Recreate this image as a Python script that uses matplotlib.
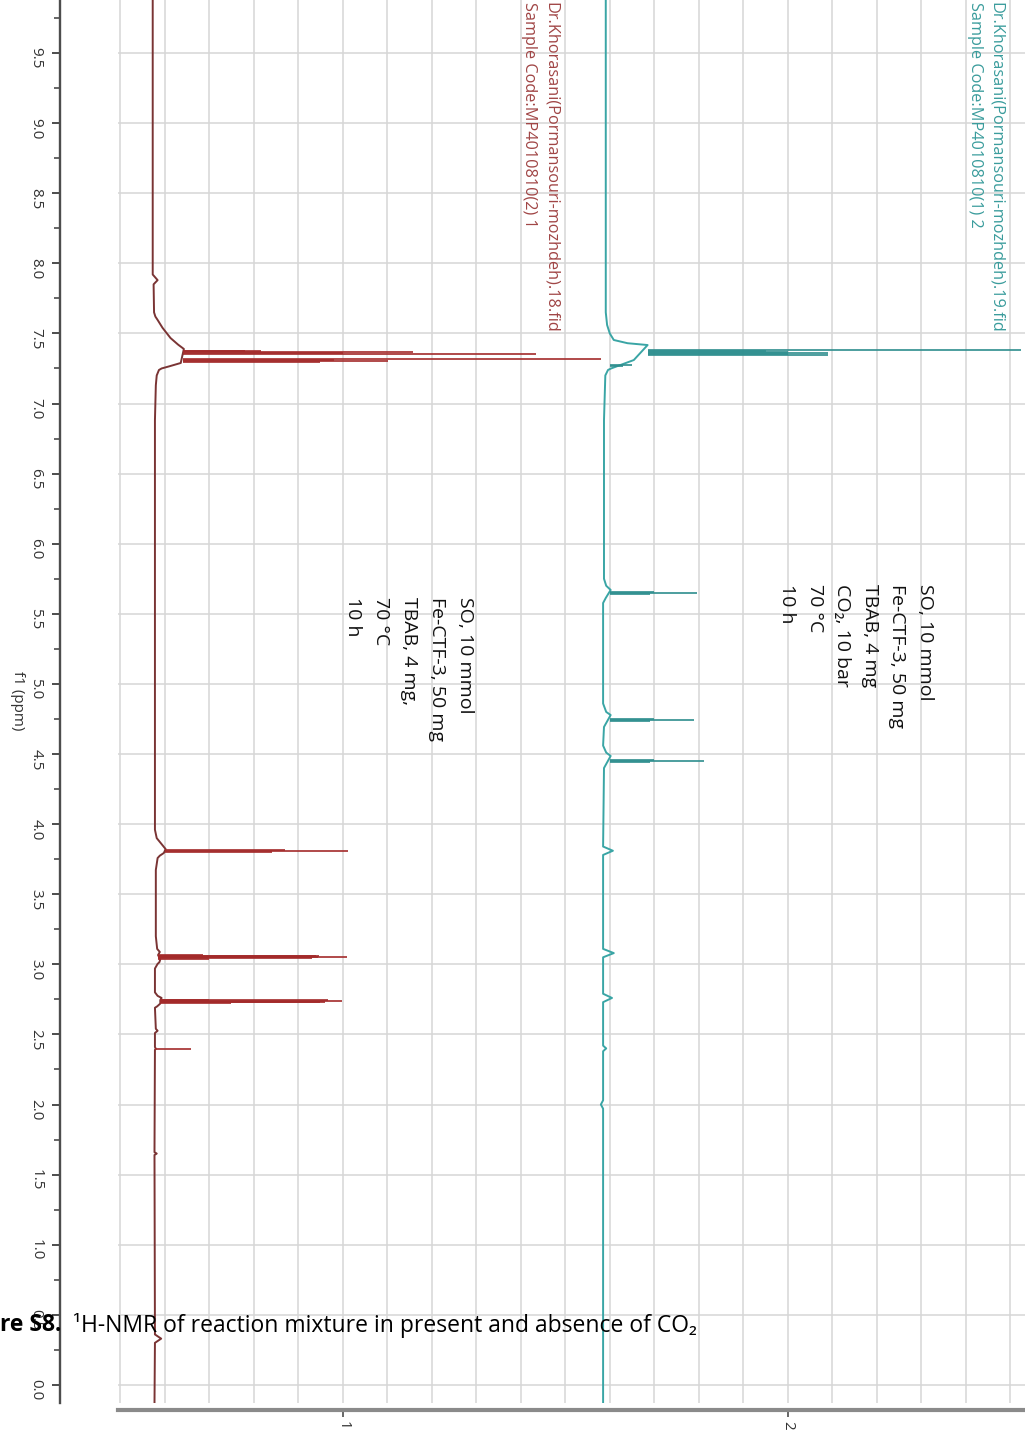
import numpy as np
import matplotlib.pyplot as plt
from matplotlib.ticker import MultipleLocator, FixedLocator

W, H = 1025, 1432


def fx(px):
    # pixel x -> figure fraction
    return px / W


def fy(py):
    # pixel y (from top) -> figure fraction
    return 1 - py / H


# ---- data (intensity, ppm) ----
red_base_ppm = [9.88, 7.92, 7.88, 7.85, 7.65, 7.62, 7.596, 7.54, 7.467, 7.42, 7.389,
                7.289, 7.265, 7.25, 7.239, 7.20, 7.13,
                6.88, 3.96, 3.90, 3.865, 3.822, 3.794, 3.775, 3.758, 3.673, 3.20, 3.11,
                3.088, 3.066, 3.035, 3.015, 3.003, 2.97, 2.80, 2.775, 2.76, 2.745, 2.72,
                2.70, 2.69, 2.54, 2.526, 2.51, 2.41, 2.398, 2.39, 1.66, 1.65, 1.64,
                0.36, 0.33, 0.30, -0.13]
red_base_int = [0.573, 0.573, 0.584, 0.575, 0.576, 0.579, 0.584, 0.595, 0.613, 0.630, 0.643,
                0.636, 0.610, 0.593, 0.587, 0.582, 0.580,
                0.578, 0.578, 0.582, 0.591, 0.602, 0.598, 0.589, 0.584, 0.580, 0.580, 0.583,
                0.589, 0.585, 0.590, 0.588, 0.584, 0.578, 0.578, 0.584, 0.593, 0.590, 0.590,
                0.583, 0.578, 0.580, 0.584, 0.578, 0.578, 0.580, 0.578, 0.577, 0.582, 0.577,
                0.578, 0.592, 0.578, 0.577]

red_peak_ppm = [7.377, 7.372, 7.365, 7.358, 7.351, 7.317, 7.310, 7.303, 7.297,
                3.812, 3.808, 3.804,
                3.068, 3.062, 3.058, 3.054, 3.050, 3.046, 3.040,
                2.748, 2.743, 2.738, 2.733, 2.728, 2.723,
                2.398]
red_peak_from = [0.64, 0.64, 0.64, 0.64, 0.64, 0.64, 0.64, 0.64, 0.64,
                 0.60, 0.60, 0.60,
                 0.585, 0.585, 0.585, 0.585, 0.585, 0.585, 0.585,
                 0.59, 0.59, 0.59, 0.59, 0.59, 0.59,
                 0.578]
red_peak_top = [0.816, 0.78, 1.157, 1.00, 1.434, 1.580, 0.98, 1.101, 0.95,
                0.87, 1.011, 0.84,
                0.685, 0.946, 0.940, 1.009, 0.945, 0.930, 0.700,
                0.700, 0.966, 0.998, 0.960, 0.950, 0.750,
                0.658]

teal_base_ppm = [9.88, 7.65, 7.56, 7.50, 7.453, 7.43, 7.417, 7.31, 7.27, 7.25, 7.239, 7.20,
                 6.88, 5.75, 5.70, 5.67, 5.613, 5.577, 4.86, 4.80, 4.778, 4.693, 4.56, 4.51,
                 4.486, 4.40, 3.84, 3.81, 3.78, 3.11, 3.08, 3.05, 2.79, 2.76, 2.73, 2.42,
                 2.40, 2.38, 2.03, 2.00, 1.97, -0.13]
teal_base_int = [1.591, 1.591, 1.594, 1.600, 1.609, 1.640, 1.685, 1.654, 1.620, 1.603, 1.596,
                 1.590, 1.587, 1.587, 1.592, 1.602, 1.591, 1.585, 1.585, 1.592, 1.602, 1.587,
                 1.585, 1.592, 1.602, 1.587, 1.585, 1.607, 1.585, 1.585, 1.609, 1.585, 1.585,
                 1.605, 1.585, 1.585, 1.592, 1.585, 1.585, 1.580, 1.585, 1.585]

teal_peak_ppm = [7.382, 7.376, 7.368, 7.362, 7.352, 7.345, 7.275, 7.265,
                 5.652, 5.646, 5.640, 4.749, 4.743, 4.737, 4.456, 4.450, 4.444]
teal_peak_from = [1.685, 1.685, 1.685, 1.685, 1.685, 1.685, 1.60, 1.60,
                  1.60, 1.60, 1.60, 1.60, 1.60, 1.60, 1.60, 1.60, 1.60]
teal_peak_top = [2.525, 1.95, 2.00, 2.09, 2.00, 2.09, 1.65, 1.63,
                 1.70, 1.796, 1.69, 1.70, 1.789, 1.69, 1.70, 1.811, 1.69]

intensity_ticks = [1, 2]

red_title = ["Dr.Khorasani(Pormansouri-mozhdeh).18.fid", "Sample Code:MP4010810(2) 1"]
teal_title = ["Dr.Khorasani(Pormansouri-mozhdeh).19.fid", "Sample Code:MP4010810(1) 2"]
red_conditions = ["SO, 10 mmol", "Fe-CTF-3, 50 mg", "TBAB, 4 mg,", "70 \u00b0C", "10 h"]
teal_conditions = ["SO, 10 mmol", "Fe-CTF-3, 50 mg", "TBAB, 4 mg", "CO\u2082, 10 bar",
                   "70 \u00b0C", "10 h"]

plt.rcParams['font.family'] = ['Open Sans', 'DejaVu Sans']

RED_LINE = '#7a3434'
RED_PEAK = '#a32a2a'
RED_TEXT = '#a04545'
TEAL_LINE = '#3aa5a5'
TEAL_PEAK = '#2e8e8e'
TEAL_TEXT = '#3a9c9c'

fig = plt.figure(figsize=(W / 100, H / 100), dpi=100)
ax = fig.add_axes([fx(118), 1 - 1403 / H, fx(907), 1403 / H])

# spectra
ax.plot(red_base_int, red_base_ppm, color=RED_LINE, lw=1.4, zorder=3)
ax.hlines(red_peak_ppm, red_peak_from, red_peak_top, color=RED_PEAK, lw=1.2, zorder=3)
ax.plot(teal_base_int, teal_base_ppm, color=TEAL_LINE, lw=1.4, zorder=3)
ax.hlines(teal_peak_ppm, teal_peak_from, teal_peak_top, color=TEAL_PEAK, lw=1.2, zorder=3)

ax.set_xlim(0.495, 2.533)
ax.set_ylim(-0.129, 9.878)

# axes look
for s in ['top', 'right']:
    ax.spines[s].set_visible(False)
ax.spines['left'].set_position(('outward', 58 * 0.72))
ax.spines['left'].set_color('#4d4d4d')
ax.spines['left'].set_linewidth(1.7)
ax.spines['bottom'].set_position(('outward', 7 * 0.72))
ax.spines['bottom'].set_color('#8a8a8a')
ax.spines['bottom'].set_linewidth(3)

ax.yaxis.set_major_locator(MultipleLocator(0.5))
ax.yaxis.set_minor_locator(MultipleLocator(0.25))
ax.yaxis.set_major_formatter(lambda v, p: f"{v:.1f}")
ax.xaxis.set_major_locator(FixedLocator(intensity_ticks))
ax.xaxis.set_minor_locator(MultipleLocator(0.1))

ax.tick_params(axis='y', which='major', direction='out', length=6, width=1.4,
               color='#4d4d4d', labelsize=11, labelcolor='#333333',
               labelrotation=-90, pad=6)
ax.tick_params(axis='y', which='minor', direction='out', length=4, width=1.2,
               color='#4d4d4d')
ax.tick_params(axis='x', which='major', direction='out', length=5, width=1.2,
               color='#4d4d4d', labelsize=11, labelcolor='#333333',
               labelrotation=-90, pad=3)
ax.tick_params(axis='x', which='minor', length=0)

ax.grid(True, which='major', axis='y', color='#d6d6d6', lw=1.1)
ax.grid(True, which='both', axis='x', color='#d6d6d6', lw=1.1)
ax.set_axisbelow(True)

fig.text(fx(17), fy(701), "f1 (ppm)", rotation=-90, ha='center', va='center',
         fontsize=11, color='#333333')

# sample titles
for k, line in enumerate(red_title):
    fig.text(fx(551 - 22 * k), fy(2), line, rotation=-90, ha='center', va='top',
             fontsize=11.7, color=RED_TEXT)
for k, line in enumerate(teal_title):
    fig.text(fx(996 - 21 * k), fy(2), line, rotation=-90, ha='center', va='top',
             fontsize=11.7, color=TEAL_TEXT)

# reaction conditions
for k, line in enumerate(red_conditions):
    fig.text(fx(465 - 28 * k), fy(597), line, rotation=-90, ha='center', va='top',
             fontsize=14, color='#111111')
for k, line in enumerate(teal_conditions):
    fig.text(fx(925 - 27.6 * k), fy(584), line, rotation=-90, ha='center', va='top',
             fontsize=14, color='#111111')

# caption overlay
fig.text(fx(0), fy(1325), "re S8.", ha='left', va='center', fontsize=16.5,
         fontweight='bold', color='black')
fig.text(fx(73), fy(1325), "\u00b9H-NMR of reaction mixture in present and absence of CO\u2082",
         ha='left', va='center', fontsize=16.5, color='black')

fig.savefig('out.png', dpi=100)
